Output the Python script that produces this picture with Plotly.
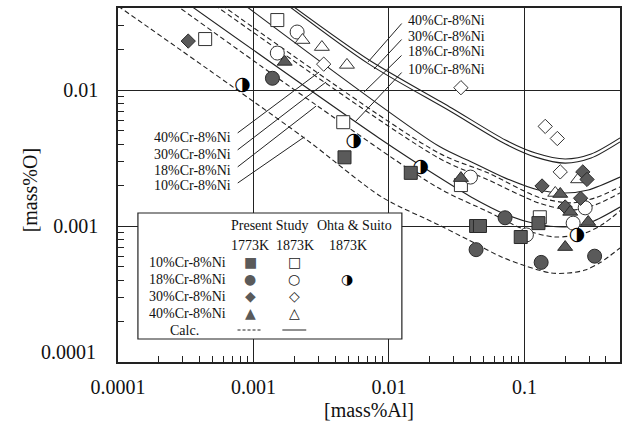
import numpy as np
import plotly.graph_objects as go

FONT = "Liberation Serif"
SYM_FONT = "DejaVu Sans"
INK = "#222222"
GRAY = "#5a5a5a"

# ---------------- experimental data: [mass%Al], [mass%O] ----------------
# Present study, 1773 K (filled symbols)
al_10_1773 = [0.0047, 0.0145, 0.044, 0.047, 0.094, 0.127]
o_10_1773 = [0.0032, 0.00246, 0.0010, 0.0010, 0.00083, 0.00105]
al_18_1773 = [0.00138, 0.044, 0.072, 0.133, 0.33]
o_18_1773 = [0.0122, 0.00067, 0.00115, 0.00054, 0.0006]
al_30_1773 = [0.00033, 0.135, 0.27, 0.29, 0.26, 0.20]
o_30_1773 = [0.0229, 0.00197, 0.0025, 0.0022, 0.0016, 0.00138]
al_40_1773 = [0.0017, 0.034, 0.184, 0.218, 0.296, 0.20]
o_40_1773 = [0.0161, 0.00225, 0.00172, 0.00127, 0.00107, 0.0007]

# Present study, 1873 K (open symbols)
al_10_1873 = [0.00044, 0.0015, 0.0046, 0.034, 0.13]
o_10_1873 = [0.0237, 0.0327, 0.0058, 0.0020, 0.00116]
al_18_1873 = [0.0015, 0.0021, 0.040, 0.1035, 0.229, 0.281]
o_18_1873 = [0.0187, 0.0267, 0.00229, 0.00086, 0.00105, 0.00136]
al_30_1873 = [0.0033, 0.034, 0.1425, 0.175, 0.184]
o_30_1873 = [0.0155, 0.0104, 0.0054, 0.0044, 0.0025]
al_40_1873 = [0.0023, 0.0032, 0.0049, 0.169, 0.249]
o_40_1873 = [0.0233, 0.0207, 0.0153, 0.00175, 0.0022]

# Ohta & Suito, 18%Cr-8%Ni, 1873 K
al_ohta = [0.00083, 0.0055, 0.0172, 0.245]
o_ohta = [0.0109, 0.0042, 0.0027, 0.00086]

# ---------------- calculated equilibrium curves ----------------
calc_al_10_1773 = [0.0001, 0.00237, 0.00889, 0.0233, 0.0387, 0.0678, 0.102, 0.158, 0.211, 0.281, 0.368, 0.508]
calc_o_10_1773 = [0.0415, 0.00444, 0.00163, 0.00102, 0.000789, 0.000592, 0.000508, 0.000451, 0.000451, 0.000474, 0.000543, 0.000689]
calc_al_18_1773 = [0.000262, 0.0029, 0.0233, 0.0543, 0.102, 0.169, 0.281, 0.381, 0.516]
calc_o_18_1773 = [0.0428, 0.00776, 0.0019, 0.00127, 0.000935, 0.00083, 0.000889, 0.001035, 0.00131]
calc_al_30_1773 = [0.000516, 0.0233, 0.0543, 0.127, 0.222, 0.333, 0.508]
calc_o_30_1773 = [0.0422, 0.00316, 0.00218, 0.00148, 0.00131, 0.00143, 0.00175]
calc_al_40_1773 = [0.000582, 0.0233, 0.0543, 0.127, 0.222, 0.333, 0.508]
calc_o_40_1773 = [0.0422, 0.00344, 0.00245, 0.00163, 0.00148, 0.00161, 0.00194]

calc_al_10_1873 = [0.000338, 0.00843, 0.0233, 0.0407, 0.0724, 0.121, 0.200, 0.311, 0.508]
calc_o_10_1873 = [0.0422, 0.00444, 0.00229, 0.00163, 0.00122, 0.00104, 0.000984, 0.00107, 0.00138]
calc_al_18_1873 = [0.000859, 0.0233, 0.0407, 0.0724, 0.127, 0.200, 0.296, 0.508]
calc_o_18_1873 = [0.0422, 0.00387, 0.00296, 0.00225, 0.00184, 0.00175, 0.00184, 0.00229]
calc_al_30_1873 = [0.00178, 0.00713, 0.0290, 0.0724, 0.121, 0.200, 0.311, 0.508]
calc_o_30_1873 = [0.0422, 0.0155, 0.00689, 0.00401, 0.00321, 0.0029, 0.00316, 0.00415]
calc_al_40_1873 = [0.0019, 0.00713, 0.0290, 0.0724, 0.121, 0.200, 0.311, 0.508]
calc_o_40_1873 = [0.0422, 0.01663, 0.00738, 0.00429, 0.00344, 0.00311, 0.00338, 0.00444]

# curve labels and the points their leader lines touch
alloys = ["40%Cr-8%Ni", "30%Cr-8%Ni", "18%Cr-8%Ni", "10%Cr-8%Ni"]
leader_al_1773 = [0.00305, 0.00344, 0.0029, 0.00237]
leader_o_1773 = [0.01355, 0.01146, 0.00762, 0.00451]
leader_al_1873 = [0.00702, 0.00776, 0.00655, 0.00562]
leader_o_1873 = [0.0161, 0.01426, 0.00966, 0.00582]

x_ticks = [0.0001, 0.001, 0.01, 0.1]
x_ticktext = ["0.0001", "0.001", "0.01", "0.1"]
y_ticks = [0.001, 0.01]
y_ticktext = ["0.001", "0.01"]

# ---------------- page geometry ----------------
W, H = 628, 432
ML, MR, MT, MB = 118, 6, 8, 70
PW, PH = W - ML - MR, H - MT - MB


def fx(px):
    return (px - ML) / PW


def fy(py):
    return (H - MB - py) / PH


fig = go.Figure()

dash_style = dict(color=INK, width=1.1, dash="5px,3px", shape="spline", smoothing=0.8)
solid_style = dict(color=INK, width=1.1, shape="spline", smoothing=0.8)

for xs, ys in [(calc_al_10_1773, calc_o_10_1773), (calc_al_18_1773, calc_o_18_1773),
               (calc_al_30_1773, calc_o_30_1773), (calc_al_40_1773, calc_o_40_1773)]:
    fig.add_trace(go.Scatter(x=xs, y=ys, mode="lines", line=dash_style, hoverinfo="skip"))
for xs, ys in [(calc_al_10_1873, calc_o_10_1873), (calc_al_18_1873, calc_o_18_1873),
               (calc_al_30_1873, calc_o_30_1873), (calc_al_40_1873, calc_o_40_1873)]:
    fig.add_trace(go.Scatter(x=xs, y=ys, mode="lines", line=solid_style, hoverinfo="skip"))

open_line = dict(color="#333333", width=1)
filled_line = dict(color="#2a2a2a", width=1)

# 1873 K, open symbols
for xs, ys, sym, size in [(al_10_1873, o_10_1873, "square", 13),
                          (al_18_1873, o_18_1873, "circle", 14),
                          (al_30_1873, o_30_1873, "diamond", 11),
                          (al_40_1873, o_40_1873, "triangle-up", 13)]:
    fig.add_trace(go.Scatter(x=xs, y=ys, mode="markers",
                             marker=dict(symbol=sym, size=size, color="white", line=open_line)))

# Ohta & Suito, half-filled circles
fig.add_trace(go.Scatter(x=al_ohta, y=o_ohta, mode="markers+text", text=["◑"] * len(al_ohta),
                         textposition="middle center",
                         textfont=dict(family=SYM_FONT, size=19, color="black"),
                         marker=dict(symbol="circle", size=13, color="white", line=dict(width=0))))

# 1773 K, filled symbols
for xs, ys, sym, size in [(al_10_1773, o_10_1773, "square", 13),
                          (al_18_1773, o_18_1773, "circle", 14),
                          (al_30_1773, o_30_1773, "diamond", 11),
                          (al_40_1773, o_40_1773, "triangle-up", 13)]:
    fig.add_trace(go.Scatter(x=xs, y=ys, mode="markers",
                             marker=dict(symbol=sym, size=size, color=GRAY, line=filled_line)))

annotations = []
label_font = dict(family=FONT, size=14, color="#111")

# left labels -> dashed (1773 K) curves
for i, name in enumerate(alloys):
    ty = [134, 151, 168, 184][i]
    tip_px = ML + (np.log10(leader_al_1773[i]) + 4) * 136
    tip_py = H - MB - (np.log10(leader_o_1773[i]) + 4) * 136
    annotations.append(dict(x=np.log10(leader_al_1773[i]), y=np.log10(leader_o_1773[i]),
                            xref="x", yref="y", text="", showarrow=True, arrowhead=0,
                            arrowwidth=1, arrowcolor=INK, ax=237 - tip_px, ay=ty - tip_py,
                            standoff=0, startstandoff=0))
    annotations.append(dict(x=fx(233), y=fy([137, 154, 170, 186][i]), xref="paper", yref="paper",
                            text=name, showarrow=False, xanchor="right", yanchor="middle",
                            font=label_font))

# right labels -> solid (1873 K) curves
for i, name in enumerate(alloys):
    ty = [22, 38, 54, 71][i]
    tip_px = ML + (np.log10(leader_al_1873[i]) + 4) * 136
    tip_py = H - MB - (np.log10(leader_o_1873[i]) + 4) * 136
    annotations.append(dict(x=np.log10(leader_al_1873[i]), y=np.log10(leader_o_1873[i]),
                            xref="x", yref="y", text="", showarrow=True, arrowhead=0,
                            arrowwidth=1, arrowcolor=INK, ax=404 - tip_px, ay=ty - tip_py,
                            standoff=0, startstandoff=0))
    annotations.append(dict(x=fx(407), y=fy([20, 36, 52, 69][i]), xref="paper", yref="paper",
                            text=name, showarrow=False, xanchor="left", yanchor="middle",
                            font=label_font))

# legend table
def ptext(x, y, text, anchor="center", size=14, family=FONT, color="#111"):
    annotations.append(dict(x=fx(x), y=fy(y), xref="paper", yref="paper", text=text,
                            showarrow=False, xanchor=anchor, yanchor="middle",
                            font=dict(family=family, size=size, color=color)))


ptext(270, 225, "Present Study")
ptext(355, 225, "Ohta &amp; Suito")
ptext(251, 245, "1773K")
ptext(296, 245, "1873K")
ptext(349, 245, "1873K")
rows = [262, 279, 296, 313]
for i, name in enumerate(["10%Cr-8%Ni", "18%Cr-8%Ni", "30%Cr-8%Ni", "40%Cr-8%Ni"]):
    ptext(147, rows[i], name, anchor="left")
ptext(185, 330, "Calc.")
for i, (f_sym, o_sym) in enumerate([("■", "□"), ("●", "○"), ("◆", "◇"), ("▲", "△")]):
    ptext(251, rows[i], f_sym, size=14, family=SYM_FONT, color=GRAY)
    ptext(295, rows[i], o_sym, size=14, family=SYM_FONT, color="#222")
ptext(348, rows[1], "◑", size=14, family=SYM_FONT, color="black")

# axis titles and the lowest y label
ptext(370, 410, "[mass%Al]", size=20)
annotations.append(dict(x=fx(30), y=fy(190), xref="paper", yref="paper", text="[mass%O]",
                        showarrow=False, textangle=-90, xanchor="center", yanchor="middle",
                        font=dict(family=FONT, size=20, color="#111")))
ptext(98, 352, "0.0001", anchor="right", size=20)

shapes = [
    dict(type="rect", xref="paper", yref="paper", x0=fx(138), x1=fx(403), y0=fy(339), y1=fy(213),
         fillcolor="white", line=dict(color=INK, width=1.2), layer="above"),
    dict(type="line", xref="paper", yref="paper", x0=fx(238), x1=fx(262), y0=fy(330), y1=fy(330),
         line=dict(color=INK, width=1, dash="3px,2px"), layer="above"),
    dict(type="line", xref="paper", yref="paper", x0=fx(283), x1=fx(307), y0=fy(330), y1=fy(330),
         line=dict(color=INK, width=1), layer="above"),
]

minor_x = [m * 10.0 ** e for e in range(-4, 0) for m in range(2, 10)]
minor_y = [m * 10.0 ** e for e in range(-4, -1) for m in range(2, 10)]

axis_common = dict(type="log", showline=True, linecolor=INK, linewidth=1.6, mirror=True,
                   showgrid=True, gridcolor=INK, gridwidth=1, zeroline=False,
                   ticks="inside", ticklen=6, tickcolor=INK,
                   tickfont=dict(family=FONT, size=20, color="#111"))

fig.update_layout(
    width=W, height=H, margin=dict(l=ML, r=MR, t=MT, b=MB),
    paper_bgcolor="white", plot_bgcolor="white", showlegend=False,
    xaxis=dict(axis_common, range=[-4, np.log10(0.508)], tickmode="array", tickvals=x_ticks,
               ticktext=x_ticktext, ticklabelstandoff=6,
               minor=dict(tickmode="array", tickvals=minor_x, ticks="inside", ticklen=6,
                          tickcolor=INK, showgrid=False)),
    yaxis=dict(axis_common, range=[-4, np.log10(0.0401)], tickmode="array", tickvals=y_ticks,
               ticktext=y_ticktext, ticklabelstandoff=14,
               minor=dict(tickmode="array", tickvals=minor_y, ticks="inside", ticklen=6,
                          tickcolor=INK, showgrid=False)),
    annotations=annotations, shapes=shapes,
)

fig.write_html("out.html")
